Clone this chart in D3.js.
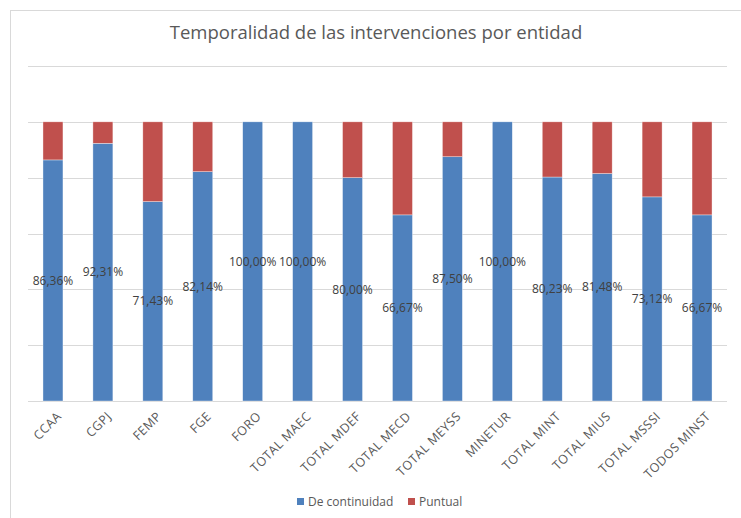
<!DOCTYPE html>
<html>
<head>
<meta charset="utf-8">
<script src="https://cdn.jsdelivr.net/npm/d3@7"></script>
<style>
  body { margin: 0; background: #fff; }
  text { font-family: "Open Sans", "Noto Sans", sans-serif; }
</style>
</head>
<body>
<script>
var entidades = ["CCAA", "CGPJ", "FEMP", "FGE", "FORO", "TOTAL MAEC", "TOTAL MDEF", "TOTAL MECD",
  "TOTAL MEYSS", "MINETUR", "TOTAL MINT", "TOTAL MIUS", "TOTAL MSSSI", "TODOS MINST"];
var deContinuidad = [86.36, 92.31, 71.43, 82.14, 100, 100, 80, 66.67, 87.5, 100, 80.23, 81.48, 73.12, 66.67];
var puntual = [13.64, 7.69, 28.57, 17.86, 0, 0, 20, 33.33, 12.5, 0, 19.77, 18.52, 26.88, 33.33];
var yTicks = [0, 20, 40, 60, 80, 100, 120];
var series = ["De continuidad", "Puntual"];

var width = 741;
var height = 518;
var colors = {"De continuidad": "#4F81BD", "Puntual": "#C0504D"};

var svg = d3.select("body")
  .append("svg")
  .attr("width", width)
  .attr("height", height);

// chart frame
svg.append("rect")
  .attr("x", 10.5)
  .attr("y", 10.5)
  .attr("width", width + 20)
  .attr("height", height + 20)
  .attr("fill", "#fff")
  .attr("stroke", "#D9D9D9");

svg.append("text")
  .attr("x", 376)
  .attr("y", 39)
  .attr("text-anchor", "middle")
  .attr("font-size", "18.5px")
  .attr("fill", "#595959")
  .text("Temporalidad de las intervenciones por entidad");

var x = d3.scaleBand()
  .domain(entidades)
  .range([28, 727])
  .paddingInner(0.6)
  .paddingOuter(0.3);

var y = d3.scaleLinear()
  .domain([0, 120])
  .range([401, 66]);

// gridlines
svg.append("g")
  .selectAll("line")
  .data(yTicks)
  .enter()
  .append("line")
  .attr("x1", 28)
  .attr("x2", 727)
  .attr("y1", function(d) { return Math.round(y(d)) + 0.5; })
  .attr("y2", function(d) { return Math.round(y(d)) + 0.5; })
  .attr("stroke", "#D9D9D9")
  .attr("stroke-width", 1);

var rows = entidades.map(function(e, i) {
  return {entidad: e, "De continuidad": deContinuidad[i], "Puntual": puntual[i]};
});
var stacked = d3.stack().keys(series)(rows);

svg.append("g")
  .selectAll("g")
  .data(stacked)
  .enter()
  .append("g")
  .attr("fill", function(d) { return colors[d.key]; })
  .selectAll("rect")
  .data(function(d) { return d; })
  .enter()
  .append("rect")
  .attr("x", function(d) { return x(d.data.entidad); })
  .attr("width", x.bandwidth())
  .attr("y", function(d) { return y(d[1]); })
  .attr("height", function(d) { return y(d[0]) - y(d[1]); })
  .attr("stroke", "rgba(255,255,255,0.6)")
  .attr("stroke-width", 0.6);

// data labels in the middle of the blue part
svg.append("g")
  .selectAll("text")
  .data(rows)
  .enter()
  .append("text")
  .attr("x", function(d) { return x(d.entidad) + x.bandwidth() / 2; })
  .attr("y", function(d) { return y(d["De continuidad"] / 2); })
  .attr("dy", "0.35em")
  .attr("text-anchor", "middle")
  .attr("font-size", "12px")
  .attr("fill", "#404040")
  .text(function(d) { return d["De continuidad"].toFixed(2).replace(".", ",") + "%"; });

// x axis labels
var xAxis = svg.append("g")
  .attr("transform", "translate(0,401)")
  .call(d3.axisBottom(x).tickSize(0).tickPadding(0));
xAxis.select(".domain").remove();
xAxis.selectAll("text")
  .attr("font-family", "\"Open Sans\", \"Noto Sans\", sans-serif")
  .attr("font-size", "12.5px")
  .attr("letter-spacing", "0.4px")
  .attr("fill", "#595959")
  .attr("text-anchor", "end")
  .attr("y", 0)
  .attr("dy", "0.7em")
  .attr("transform", "translate(3,10) rotate(-45)");

// legend
var legend = svg.append("g");
var legendX = [297, 408];
series.forEach(function(s, i) {
  legend.append("rect")
    .attr("x", legendX[i])
    .attr("y", 498)
    .attr("width", 7)
    .attr("height", 7)
    .attr("fill", colors[s]);
  legend.append("text")
    .attr("x", legendX[i] + 11)
    .attr("y", 501.5)
    .attr("dy", "0.35em")
    .attr("font-size", "12px")
    .attr("fill", "#595959")
    .text(s);
});
</script>
</body>
</html>
